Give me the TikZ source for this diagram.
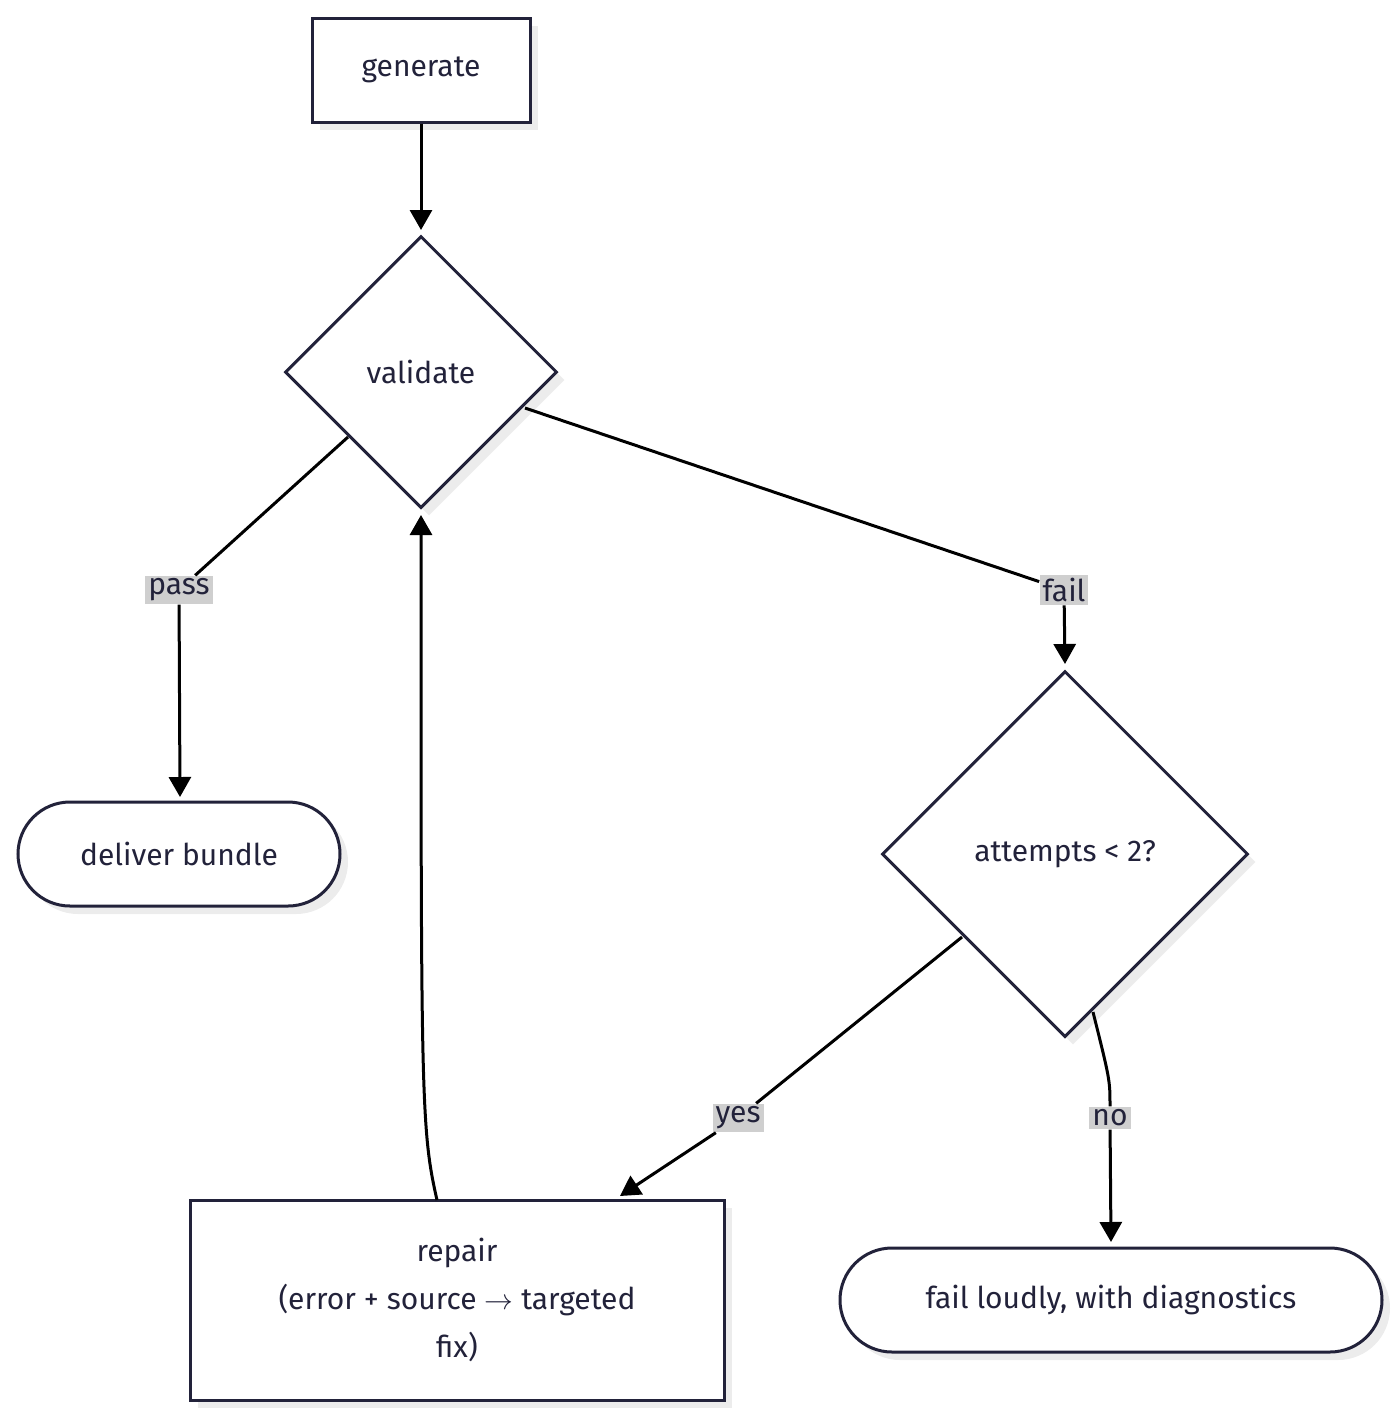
\documentclass[tikz,border=0pt]{standalone}
\usepackage{fontspec}
\setmainfont{Fira Sans}
\usetikzlibrary{shapes.geometric,shapes.misc,shadows,arrows.meta}
\definecolor{ink}{HTML}{22223A}
\begin{document}
\begin{tikzpicture}[x=0.5pt,y=-0.5pt,
  base/.style={draw=ink,line width=1.5pt,fill=white,text=ink,font=\fontsize{15}{24}\selectfont,
    drop shadow={shadow xshift=4pt,shadow yshift=-4pt,fill=gray!15,opacity=1}},
  box/.style={base,rectangle,inner sep=0pt},
  dia/.style={base,diamond,inner sep=0pt,aspect=1},
  pill/.style={base,rounded rectangle,inner sep=0pt},
  lab/.style={fill=black!19,text=ink,inner sep=1.5pt,font=\fontsize{15}{18}\selectfont},
  con/.style={line width=1.5pt,draw=black},
  arr/.style={con,-{Triangle[length=10pt,width=11pt]}}]
\useasboundingbox (0,0) rectangle (1400,1420);
\node[box,minimum width=109pt,minimum height=52pt] (gen) at (421,70) {generate};
\node[dia,minimum width=136pt,minimum height=136pt] (val) at (421,372) {validate};
\node[pill,minimum width=161pt,minimum height=52pt] (del) at (179,854) {deliver bundle};
\node[dia,minimum width=183pt,minimum height=183pt] (att) at (1065,854) {attempts < 2?};
\node[box,minimum width=267pt,minimum height=100pt,align=center] (rep) at (457,1300) {repair\\(error + source $\rightarrow$ targeted\\fix)};
\node[pill,minimum width=271pt,minimum height=52pt] (fl) at (1111,1300) {fail loudly, with diagnostics};
\node[lab] (lpass) at (179,590) {pass};
\node[lab] (lfail) at (1064,590) {fail};
\node[lab] (lyes) at (738,1118) {yes};
\node[lab] (lno) at (1110,1118) {no};
\draw[arr] (gen) -- (421,230);
\draw[con] (348,437) -- (lpass);
\draw[arr] (lpass) -- (180,797);
\draw[con] (525,408) -- (lfail);
\draw[arr] (lfail) -- (1065,664);
\draw[con] (962,937) -- (lyes);
\draw[arr] (lyes) -- (620,1196);
\draw[con] (1093,1012) .. controls (1110,1080) .. (lno);
\draw[arr] (lno) -- (1111,1242);
\draw[arr] (437,1200) .. controls (421,1130) and (421,1100) .. (421,515);
\end{tikzpicture}
\end{document}
